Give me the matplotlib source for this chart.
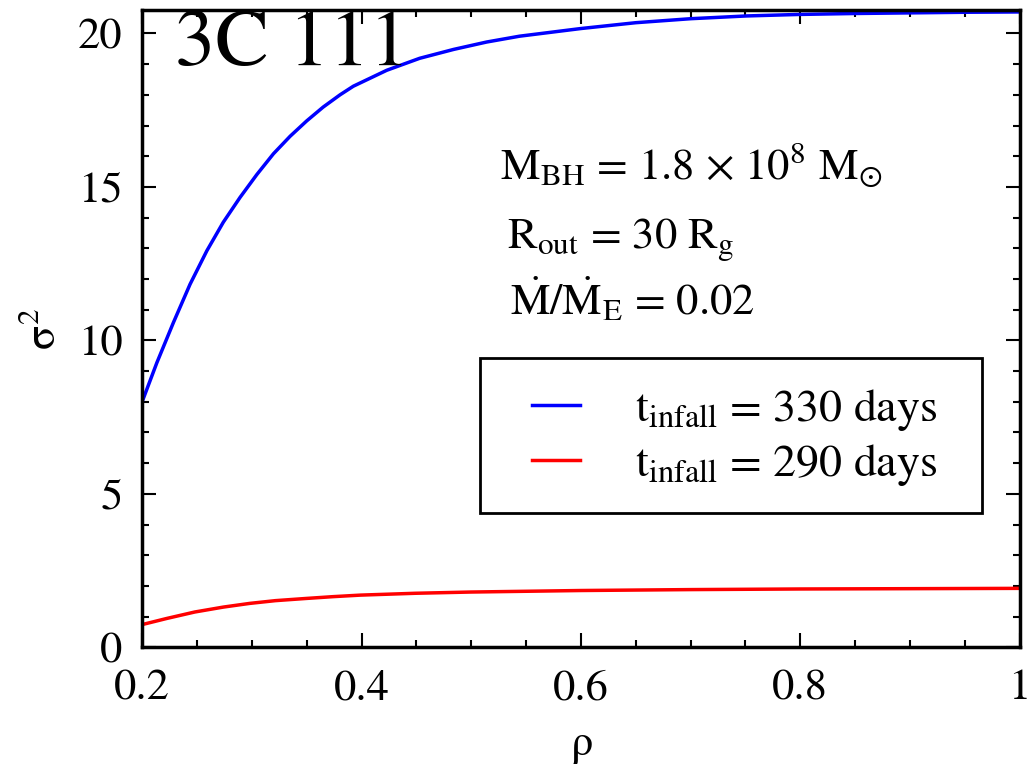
import numpy as np
import matplotlib
matplotlib.use("Agg")
import matplotlib.pyplot as plt
from matplotlib.ticker import MultipleLocator
from matplotlib.patches import Rectangle

plt.rcParams["font.family"] = "STIXGeneral"
plt.rcParams["mathtext.fontset"] = "stix"

# values
rho_330 = [0.20, 0.2134, 0.2285, 0.2437, 0.259, 0.274, 0.2893, 0.3045, 0.3197, 0.3349, 0.350,
           0.365, 0.3804, 0.3925, 0.423, 0.453, 0.484, 0.514, 0.544, 0.60, 0.65, 0.70,
           0.751, 0.80, 0.85, 0.90, 0.95, 1.00]
sig_330 = [8.0, 9.27, 10.58, 11.83, 12.92, 13.85, 14.66, 15.40, 16.08, 16.65, 17.15,
           17.60, 18.00, 18.28, 18.80, 19.19, 19.48, 19.72, 19.91, 20.16, 20.35, 20.48,
           20.57, 20.62, 20.65, 20.67, 20.69, 20.70]
rho_290 = [0.20, 0.2225, 0.248, 0.274, 0.298, 0.3215, 0.349, 0.374, 0.399, 0.449, 0.499,
           0.60, 0.70, 0.80, 0.90, 1.00]
sig_290 = [0.74, 0.94, 1.15, 1.31, 1.43, 1.52, 1.59, 1.65, 1.70, 1.76, 1.80,
           1.85, 1.88, 1.90, 1.91, 1.92]

fig = plt.figure(figsize=(10.3, 7.78), dpi=100)
ax = fig.add_axes([0.138, 0.168, 0.852, 0.819])

ax.plot(rho_330, sig_330, color="blue", lw=2.5, label=r"$\mathrm{t_{infall}}$ = 330 days")
ax.plot(rho_290, sig_290, color="red", lw=2.5, label=r"$\mathrm{t_{infall}}$ = 290 days")

ax.set_xlim(0.2, 1.0)
ax.set_ylim(0, 20.76)
ax.xaxis.set_minor_locator(MultipleLocator(0.05))
ax.yaxis.set_major_locator(MultipleLocator(5))
ax.yaxis.set_minor_locator(MultipleLocator(1))
ax.set_xticks([0.2, 0.4, 0.6, 0.8, 1.0])
ax.set_xticklabels(["0.2", "0.4", "0.6", "0.8", "1"])
ax.tick_params(which="both", direction="in", top=True, right=True, width=1.5, labelsize=32)
ax.tick_params(axis="x", pad=16)
ax.tick_params(axis="y", pad=14)
ax.tick_params(which="major", length=10)
ax.tick_params(which="minor", length=5)
for s in ax.spines.values():
    s.set_linewidth(2.5)

ax.set_xlabel(r"$\mathrm{\rho}$", fontsize=32, labelpad=14)
ax.set_ylabel(r"$\mathrm{\sigma}^2$", fontsize=32, labelpad=10)

ax.text(0.0376, 0.943, "3C 111", transform=ax.transAxes, fontsize=58, va="center", ha="left")
ax.text(0.408, 0.757, r"M$_{\mathrm{BH}}$ = 1.8 × 10$^8$ M$_{\odot}$", transform=ax.transAxes,
        fontsize=32, va="center", ha="left")
ax.text(0.416, 0.639, r"R$_{\mathrm{out}}$ = 30 R$_{\mathrm{g}}$", transform=ax.transAxes,
        fontsize=32, va="center", ha="left")
ax.text(0.419, 0.545, r"$\dot{\mathrm{M}}/\dot{\mathrm{M}}_{\mathrm{E}}$ = 0.02", transform=ax.transAxes,
        fontsize=32, va="center", ha="left")

# legend box drawn separately so the padding matches the original
ax.add_patch(Rectangle((0.385, 0.210), 0.572, 0.2437, transform=ax.transAxes,
                       fill=True, facecolor="white", edgecolor="black", lw=2, zorder=4))
leg = ax.legend(loc="center left", bbox_to_anchor=(0.444, 0.329), fontsize=33, frameon=False,
                handlelength=1.05, handletextpad=1.2, borderpad=0, labelspacing=0.2,
                borderaxespad=0)
leg.set_zorder(5)

fig.savefig("out.png", dpi=100)
